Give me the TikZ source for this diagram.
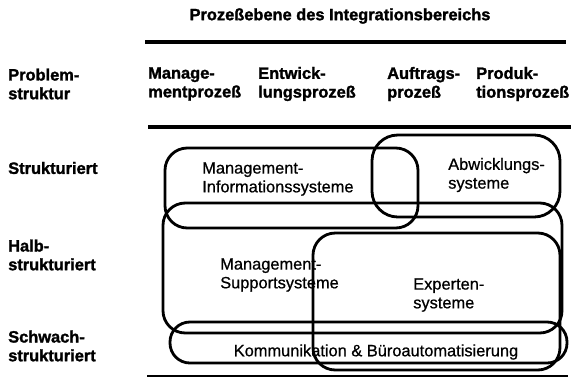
\documentclass[tikz,border=0pt]{standalone}
\usepackage{fontspec}
\setmainfont{Liberation Sans}[BoldFeatures={FakeBold=1.6}]
\newfontfamily\midfont{Liberation Sans}[FakeBold=0.7]
\begin{document}
\begin{tikzpicture}[x=0.03cm,y=-0.03cm,
  hdr/.style={font=\fontsize{14}{16}\selectfont\bfseries,inner sep=0pt,align=left,anchor=west},
  txt/.style={font=\midfont\fontsize{14}{16}\selectfont,inner sep=0pt,align=left,anchor=west},
  rule/.style={line width=3.2pt},
  sysbox/.style={line width=2.4pt,rounded corners=19pt}]
  \useasboundingbox (0,0) rectangle (571,379);
  \node[hdr,anchor=center] (title) at (340,16) {Prozeßebene des Integrationsbereichs};
  \draw[rule] (145,42) -- (566,42);
  \draw[rule] (148,127) -- (571,127);
  \draw[line width=1.6pt] (147,376) -- (568,376);

  \node[hdr] (problem) at (8,84) {Problem-\\struktur};
  \node[hdr] (mgmt) at (148,84) {Manage-\\mentprozeß};
  \node[hdr] (entw) at (258,84) {Entwick-\\lungsprozeß};
  \node[hdr] (auftr) at (387,84) {Auftrags-\\prozeß};
  \node[hdr] (prod) at (476,84) {Produk-\\tionsprozeß};

  \node[hdr] (strukt) at (8,168) {Strukturiert};
  \node[hdr] (halb) at (8,255) {Halb-\\strukturiert};
  \node[hdr] (schwach) at (8,346) {Schwach-\\strukturiert};

  \node[txt] (mis) at (202,179) {Management-\\Informationssysteme};
  \node[txt] (abw) at (448,175) {Abwicklungs-\\systeme};
  \node[txt] (mss) at (220,275) {Management-\\Supportsysteme};
  \node[txt] (exp) at (413,295) {Experten-\\systeme};
  \node[txt,anchor=center] (kom) at (376,352) {Kommunikation \& Büroautomatisierung};

  \draw[sysbox] (165,148) rectangle (418,228);
  \draw[sysbox,rounded corners=22pt] (372,135) rectangle (560,217);
  \draw[sysbox] (163,203) rectangle (562,333);
  \draw[sysbox] (313,233) rectangle (560,370);
  \draw[sysbox,rounded corners=17pt] (170,322) rectangle (567,363);
\end{tikzpicture}
\end{document}
